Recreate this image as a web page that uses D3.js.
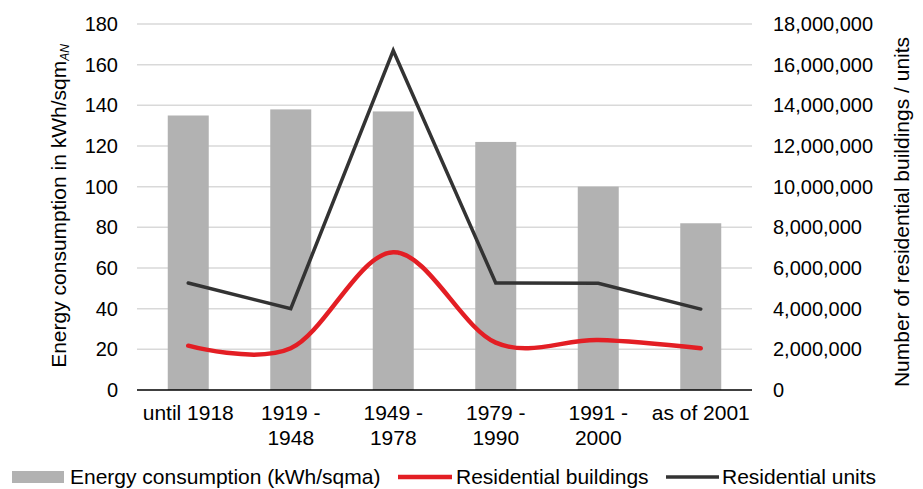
<!DOCTYPE html>
<html>
<head>
<meta charset="utf-8">
<script src="https://cdn.jsdelivr.net/npm/d3@7/dist/d3.min.js"></script>
<style>
  html, body { margin: 0; padding: 0; background: #fff; }
  svg { display: block; font-family: "Liberation Sans", Arial, sans-serif; }
</style>
</head>
<body>
<svg id="chart" width="923" height="489"></svg>
<script>
const categories = [["until 1918"], ["1919 -", "1948"], ["1949 -", "1978"], ["1979 -", "1990"], ["1991 -", "2000"], ["as of 2001"]];
const energy = [135, 138, 137, 122, 100, 82];
const buildings = [2180000, 2050000, 6770000, 2330000, 2460000, 2050000];
const units = [5260000, 4000000, 16690000, 5260000, 5250000, 3980000];
const leftTicks = [0, 20, 40, 60, 80, 100, 120, 140, 160, 180];
const rightTicks = [0, 2000000, 4000000, 6000000, 8000000, 10000000, 12000000, 14000000, 16000000, 18000000];
const legendLabels = ["Energy consumption (kWh/sqma)", "Residential buildings", "Residential units"];

const svg = d3.select("#chart");
const plot = { left: 137, right: 752, top: 24, bottom: 390 };
const keys = categories.map((c, i) => i);

const x = d3.scaleBand().domain(keys).range([plot.left, plot.right]).paddingInner(0.6).paddingOuter(0.3);
const yL = d3.scaleLinear().domain([0, 180]).range([plot.bottom, plot.top]);
const yR = d3.scaleLinear().domain([0, 18000000]).range([plot.bottom, plot.top]);

// gridlines
svg.append("g").selectAll("line").data(leftTicks.slice(1)).join("line")
  .attr("x1", plot.left).attr("x2", plot.right)
  .attr("y1", d => yL(d)).attr("y2", d => yL(d))
  .attr("stroke", "#d9d9d9").attr("stroke-width", 1.5);

// bars
svg.append("g").selectAll("rect").data(energy).join("rect")
  .attr("x", (d, i) => x(i)).attr("width", x.bandwidth())
  .attr("y", d => yL(d)).attr("height", d => yL(0) - yL(d))
  .attr("fill", "#b2b2b2");

// baseline
svg.append("line").attr("x1", plot.left).attr("x2", plot.right)
  .attr("y1", yL(0)).attr("y2", yL(0)).attr("stroke", "#000").attr("stroke-width", 1.5);

const cx = i => x(i) + x.bandwidth() / 2;

// red smooth line
svg.append("path").datum(buildings)
  .attr("d", d3.line().x((d, i) => cx(i)).y(d => yR(d)).curve(d3.curveCardinal.tension(0)))
  .attr("fill", "none").attr("stroke", "#e31e24").attr("stroke-width", 4.5).attr("stroke-linecap", "round");

// black line
svg.append("path").datum(units)
  .attr("d", d3.line().x((d, i) => cx(i)).y(d => yR(d)))
  .attr("fill", "none").attr("stroke", "#333333").attr("stroke-width", 3.5).attr("stroke-linecap", "round").attr("stroke-linejoin", "miter");

// left axis labels
const fs = 20;
const fsT = 21;
svg.append("g").selectAll("text").data(leftTicks).join("text")
  .attr("x", 118).attr("y", d => yL(d)).attr("dy", "0.35em")
  .attr("text-anchor", "end").attr("font-size", fs).attr("fill", "#000")
  .text(d => d);

// right axis labels
const fmt = d3.format(",");
svg.append("g").selectAll("text").data(rightTicks).join("text")
  .attr("x", 773).attr("y", d => yR(d)).attr("dy", "0.35em")
  .attr("text-anchor", "start").attr("font-size", fs).attr("fill", "#000")
  .text(d => fmt(d));

// x labels
const xl = svg.append("g").selectAll("text").data(categories).join("text")
  .attr("x", (d, i) => cx(i)).attr("y", 420)
  .attr("text-anchor", "middle").attr("font-size", fsT).attr("fill", "#000");
xl.each(function(d) {
  const t = d3.select(this);
  d.forEach((line, j) => {
    t.append("tspan").attr("x", t.attr("x")).attr("dy", j === 0 ? 0 : 25).text(line);
  });
});

// left title
const lt = svg.append("text").attr("transform", "translate(66,206) rotate(-90)")
  .attr("text-anchor", "middle").attr("font-size", fsT).attr("fill", "#000");
lt.append("tspan").text("Energy consumption in kWh/sqm");
lt.append("tspan").attr("font-size", 12).attr("font-style", "italic").attr("dy", 3).text("AN");

// right title
svg.append("text").attr("transform", "translate(909,212) rotate(-90)")
  .attr("text-anchor", "middle").attr("font-size", fsT).attr("fill", "#000")
  .text("Number of residential buildings / units");

// legend
const lg = svg.append("g");
lg.append("rect").attr("x", 12).attr("y", 471).attr("width", 52).attr("height", 12).attr("fill", "#b2b2b2");
lg.append("text").attr("x", 70).attr("y", 484).attr("font-size", fsT).text(legendLabels[0]);
lg.append("line").attr("x1", 398).attr("x2", 452).attr("y1", 477).attr("y2", 477).attr("stroke", "#e31e24").attr("stroke-width", 4.5);
lg.append("text").attr("x", 456).attr("y", 484).attr("font-size", fsT).text(legendLabels[1]);
lg.append("line").attr("x1", 666).attr("x2", 719).attr("y1", 477).attr("y2", 477).attr("stroke", "#333333").attr("stroke-width", 3.5);
lg.append("text").attr("x", 722).attr("y", 484).attr("font-size", fsT).text(legendLabels[2]);
</script>
</body>
</html>
